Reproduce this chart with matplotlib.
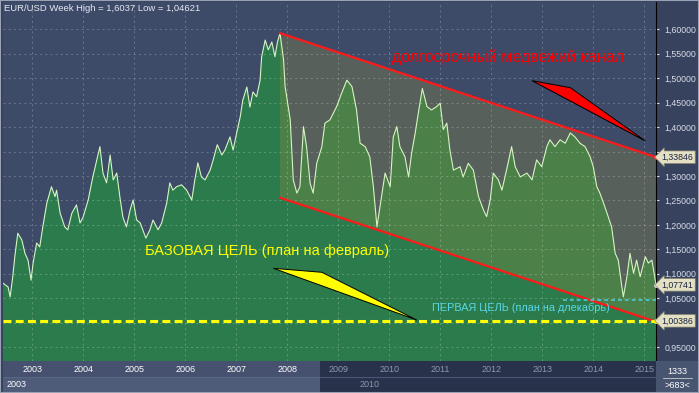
import numpy as np
import matplotlib
matplotlib.use('Agg')
import matplotlib.pyplot as plt
from matplotlib.patches import Polygon, Rectangle
import matplotlib.transforms as mtransforms

plt.rcParams['font.family'] = ['Liberation Sans', 'DejaVu Sans']

# EUR/USD weekly (decimal year, price)
dates = [2003.13, 2003.23, 2003.27, 2003.32, 2003.36, 2003.42, 2003.50, 2003.56, 2003.62, 2003.68,
         2003.72, 2003.79, 2003.85, 2003.91, 2003.99, 2004.08, 2004.15, 2004.18, 2004.25, 2004.34,
         2004.40, 2004.48, 2004.57, 2004.64, 2004.70, 2004.80, 2004.89, 2004.97, 2005.03, 2005.09,
         2005.16, 2005.23, 2005.29, 2005.36, 2005.42, 2005.48, 2005.55, 2005.62, 2005.68, 2005.75,
         2005.82, 2005.87, 2005.93, 2006.01, 2006.07, 2006.17, 2006.24, 2006.34, 2006.40, 2006.46,
         2006.53, 2006.63, 2006.73, 2006.83, 2006.89, 2006.95, 2007.02, 2007.09, 2007.19, 2007.25,
         2007.33, 2007.42, 2007.48, 2007.58, 2007.64, 2007.71, 2007.78, 2007.83, 2007.91, 2007.97,
         2008.03, 2008.10, 2008.17, 2008.20, 2008.27, 2008.33, 2008.40, 2008.46, 2008.51, 2008.56,
         2008.63, 2008.66, 2008.76, 2008.82, 2008.89, 2008.95, 2009.02, 2009.08, 2009.15, 2009.21,
         2009.28, 2009.38, 2009.44, 2009.54, 2009.67, 2009.77, 2009.87, 2009.97, 2010.06, 2010.13,
         2010.23, 2010.32, 2010.39, 2010.46, 2010.52, 2010.62, 2010.72, 2010.78, 2010.85, 2010.91,
         2011.01, 2011.08, 2011.14, 2011.21, 2011.27, 2011.35, 2011.44, 2011.53, 2011.63, 2011.70,
         2011.76, 2011.83, 2011.89, 2011.96, 2012.09, 2012.15, 2012.25, 2012.35, 2012.45, 2012.55,
         2012.61, 2012.68, 2012.74, 2012.84, 2012.91, 2013.00, 2013.10, 2013.17, 2013.27, 2013.40,
         2013.50, 2013.59, 2013.69, 2013.79, 2013.85, 2013.95, 2014.05, 2014.15, 2014.25, 2014.34,
         2014.44, 2014.54, 2014.64, 2014.70, 2014.77, 2014.83, 2014.90, 2014.97, 2015.06, 2015.13,
         2015.19, 2015.26, 2015.29, 2015.36, 2015.42, 2015.49, 2015.55, 2015.62, 2015.72, 2015.78,
         2015.85, 2015.93]
prices = [1.081, 1.073, 1.053, 1.093, 1.134, 1.183, 1.169, 1.142, 1.128, 1.087,
          1.122, 1.163, 1.155, 1.196, 1.245, 1.278, 1.258, 1.271, 1.224, 1.196,
          1.190, 1.224, 1.241, 1.204, 1.216, 1.251, 1.298, 1.333, 1.360, 1.306,
          1.286, 1.343, 1.292, 1.306, 1.258, 1.216, 1.196, 1.230, 1.251, 1.210,
          1.204, 1.190, 1.173, 1.190, 1.210, 1.190, 1.204, 1.245, 1.286, 1.271,
          1.278, 1.282, 1.271, 1.251, 1.292, 1.327, 1.298, 1.292, 1.312, 1.333,
          1.364, 1.343, 1.353, 1.380, 1.353, 1.388, 1.421, 1.455, 1.482, 1.441,
          1.472, 1.462, 1.496, 1.544, 1.578, 1.558, 1.574, 1.544, 1.574, 1.592,
          1.537, 1.483, 1.415, 1.292, 1.265, 1.278, 1.401, 1.360, 1.285, 1.265,
          1.326, 1.360, 1.408, 1.415, 1.442, 1.470, 1.496, 1.483, 1.435, 1.367,
          1.360, 1.339, 1.278, 1.196, 1.237, 1.306, 1.278, 1.380, 1.401, 1.360,
          1.339, 1.298, 1.347, 1.388, 1.428, 1.479, 1.442, 1.435, 1.442, 1.449,
          1.395, 1.408, 1.353, 1.312, 1.319, 1.298, 1.326, 1.312, 1.258, 1.230,
          1.217, 1.251, 1.306, 1.292, 1.271, 1.312, 1.360, 1.319, 1.298, 1.306,
          1.292, 1.333, 1.319, 1.360, 1.374, 1.360, 1.374, 1.367, 1.388, 1.380,
          1.367, 1.360, 1.339, 1.319, 1.278, 1.265, 1.245, 1.224, 1.196, 1.142,
          1.128, 1.074, 1.053, 1.094, 1.142, 1.101, 1.128, 1.094, 1.135, 1.122,
          1.128, 1.07741]

# bear channel
chan_t = [2008.56, 2015.93]
chan_top = [1.592, 1.33846]
chan_bot = [1.2556, 1.0020]

base_target = 1.00386
first_target = 1.04621
first_target_from = 2014.11
last_price = 1.07741

years = list(range(2003, 2016))
year_pos = [y + 0.7 for y in years]   # the terminal prints year labels late in the year
y_ticks = np.arange(0.95, 1.6001, 0.05)

red_arrow = [(2013.50, 1.4949), (2014.25, 1.4806), (2015.72, 1.3716)]
yellow_arrow = [(2008.43, 1.1112), (2009.38, 1.1031), (2011.24, 1.0055)]

W, H = 699, 393
fig = plt.figure(figsize=(W / 100, H / 100), dpi=100, facecolor='#36425e')


def px(x0, y0, x1, y1):
    return [x0 / W, 1 - y1 / H, (x1 - x0) / W, (y1 - y0) / H]


ax = fig.add_axes(px(3, 2, 656, 361))
ax.set_facecolor('#3d4a68')
ax.set_xlim(2003.13, 2015.93)
ax.set_ylim(0.9217, 1.6558)

ax.fill_between(dates, prices, 0, color='#2c7b4d', lw=0, zorder=1)
ax.add_patch(Polygon([(chan_t[0], chan_top[0]), (chan_t[1], chan_top[1]),
                      (chan_t[1], chan_bot[1]), (chan_t[0], chan_bot[0])],
                     closed=True, fc='#8a8a42', ec='none', alpha=0.35, zorder=1.2))
ax.plot(dates, prices, color='#d6f5c2', lw=0.8, zorder=2)
ax.plot(chan_t, chan_top, color='#ff1a1a', lw=1.6, zorder=3)
ax.plot(chan_t, chan_bot, color='#ff1a1a', lw=1.6, zorder=3)

ax.axhline(base_target, color='#ffff00', lw=2.2, ls=(0, (2.6, 1.4)), zorder=3)
ax.plot([first_target_from, chan_t[1]], [first_target] * 2, color='#4fcfe0',
        lw=1.1, ls=(0, (2.5, 2)), zorder=3)

ax.add_patch(Polygon(red_arrow, closed=True, fc='#ff0000', ec='black', lw=0.7, zorder=4))
ax.add_patch(Polygon(yellow_arrow, closed=True, fc='#ffff00', ec='black', lw=0.7, zorder=4))

ax.text(2010.756, 1.5430, 'долгосрочный медвежий канал', color='#ff0000',
        fontsize=11.5, ha='left', va='center', zorder=5)
ax.text(2005.913, 1.1472, 'БАЗОВАЯ ЦЕЛЬ (план на февраль)', color='#ffff00',
        fontsize=10.5, ha='left', va='center', zorder=5)
ax.text(2011.535, 1.030, 'ПЕРВАЯ ЦЕЛЬ (план на длекабрь)', color='#5ad6e6',
        fontsize=7.8, ha='left', va='center', zorder=5)
ax.text(0.0015, 0.983, 'EUR/USD Week High = 1,6037 Low = 1,04621', transform=ax.transAxes,
        color='#e6e9f0', fontsize=6.8, ha='left', va='center', zorder=5)

# grid + right price scale (labels under the price flags are hidden, as on the terminal)
flag_vals = [chan_top[1], last_price, base_target]
ax.set_xticks(year_pos)
ax.set_yticks(y_ticks)
ax.set_yticklabels(['' if min(abs(v - f) for f in flag_vals) < 0.02 else f"{v:.5f}".replace('.', ',')
                    for v in y_ticks])
ax.grid(True, color='white', alpha=0.22, ls=(0, (2, 3)), lw=0.75)
ax.set_axisbelow('line')
ax.yaxis.tick_right()
ax.tick_params(axis='y', colors='#d8dce6', labelsize=6.3, length=2, pad=4)
ax.tick_params(axis='x', length=0, labelbottom=False)
for s in ['left', 'top', 'bottom']:
    ax.spines[s].set_visible(False)
ax.spines['right'].set_color('black')

trans = mtransforms.blended_transform_factory(ax.transAxes, ax.transData)
for val, dot in zip(flag_vals, ['#ff2020', '#e0e0e0', '#ffff00']):
    ax.plot([1.0], [val], transform=trans, marker='o', ms=2.5, color=dot, clip_on=False, zorder=9)
    ax.annotate(f"{val:.5f}".replace('.', ','), xy=(1, val), xycoords=trans,
                xytext=(4, 0), textcoords='offset points', ha='left', va='center',
                fontsize=6.3, color='#1a2340', annotation_clip=False, zorder=10,
                bbox=dict(boxstyle='larrow,pad=0.2', fc='#e4e0c4', ec='#8c8a70', lw=0.5))

# bottom time strip
bx = fig.add_axes(px(3, 361, 656, 392), sharex=ax)
bx.set_ylim(0, 2)
bx.set_facecolor('#28324b')
bx.tick_params(left=False, bottom=False, labelleft=False, labelbottom=False)
for s in bx.spines.values():
    s.set_visible(False)
nav_end = 2009.345
bx.add_patch(Rectangle((2003.0, 1), nav_end - 2003.0, 1, fc='#45516e', ec='none'))
bx.add_patch(Rectangle((2003.0, 0), nav_end - 2003.0, 1, fc='#4e5b79', ec='none'))
bx.axhline(1, color='#5d6a88', lw=0.5)
for y, p in zip(years, year_pos):
    bx.text(p, 1.45, str(y), ha='center', va='center', fontsize=6.5,
            color='white' if y < 2009 else '#8e98ac')
bx.text(2003.2, 0.5, '2003', ha='left', va='center', fontsize=6.5, color='white')
bx.text(2010.11, 0.5, '2010', ha='left', va='center', fontsize=6.5, color='#8e98ac')

# corner box
fig.patches.append(Rectangle((656 / W, 0), 43 / W, 32 / H, transform=fig.transFigure,
                             fc='#485571', ec='none'))
fig.text(677 / W, 1 - 371 / H, '1333', ha='center', va='center', fontsize=6.5, color='white')
fig.text(677 / W, 1 - 385 / H, '>683<', ha='center', va='center', fontsize=6.5, color='white')
fig.lines.append(plt.Line2D([663 / W, 692 / W], [1 - 378 / H] * 2, transform=fig.transFigure,
                            color='#c8ccd6', lw=0.6))
fig.patches.append(Rectangle((0, 0), 1, 1, transform=fig.transFigure, fill=False,
                             ec='#9aa3b5', lw=1.5))

fig.savefig('out.png', dpi=100, facecolor=fig.get_facecolor())
